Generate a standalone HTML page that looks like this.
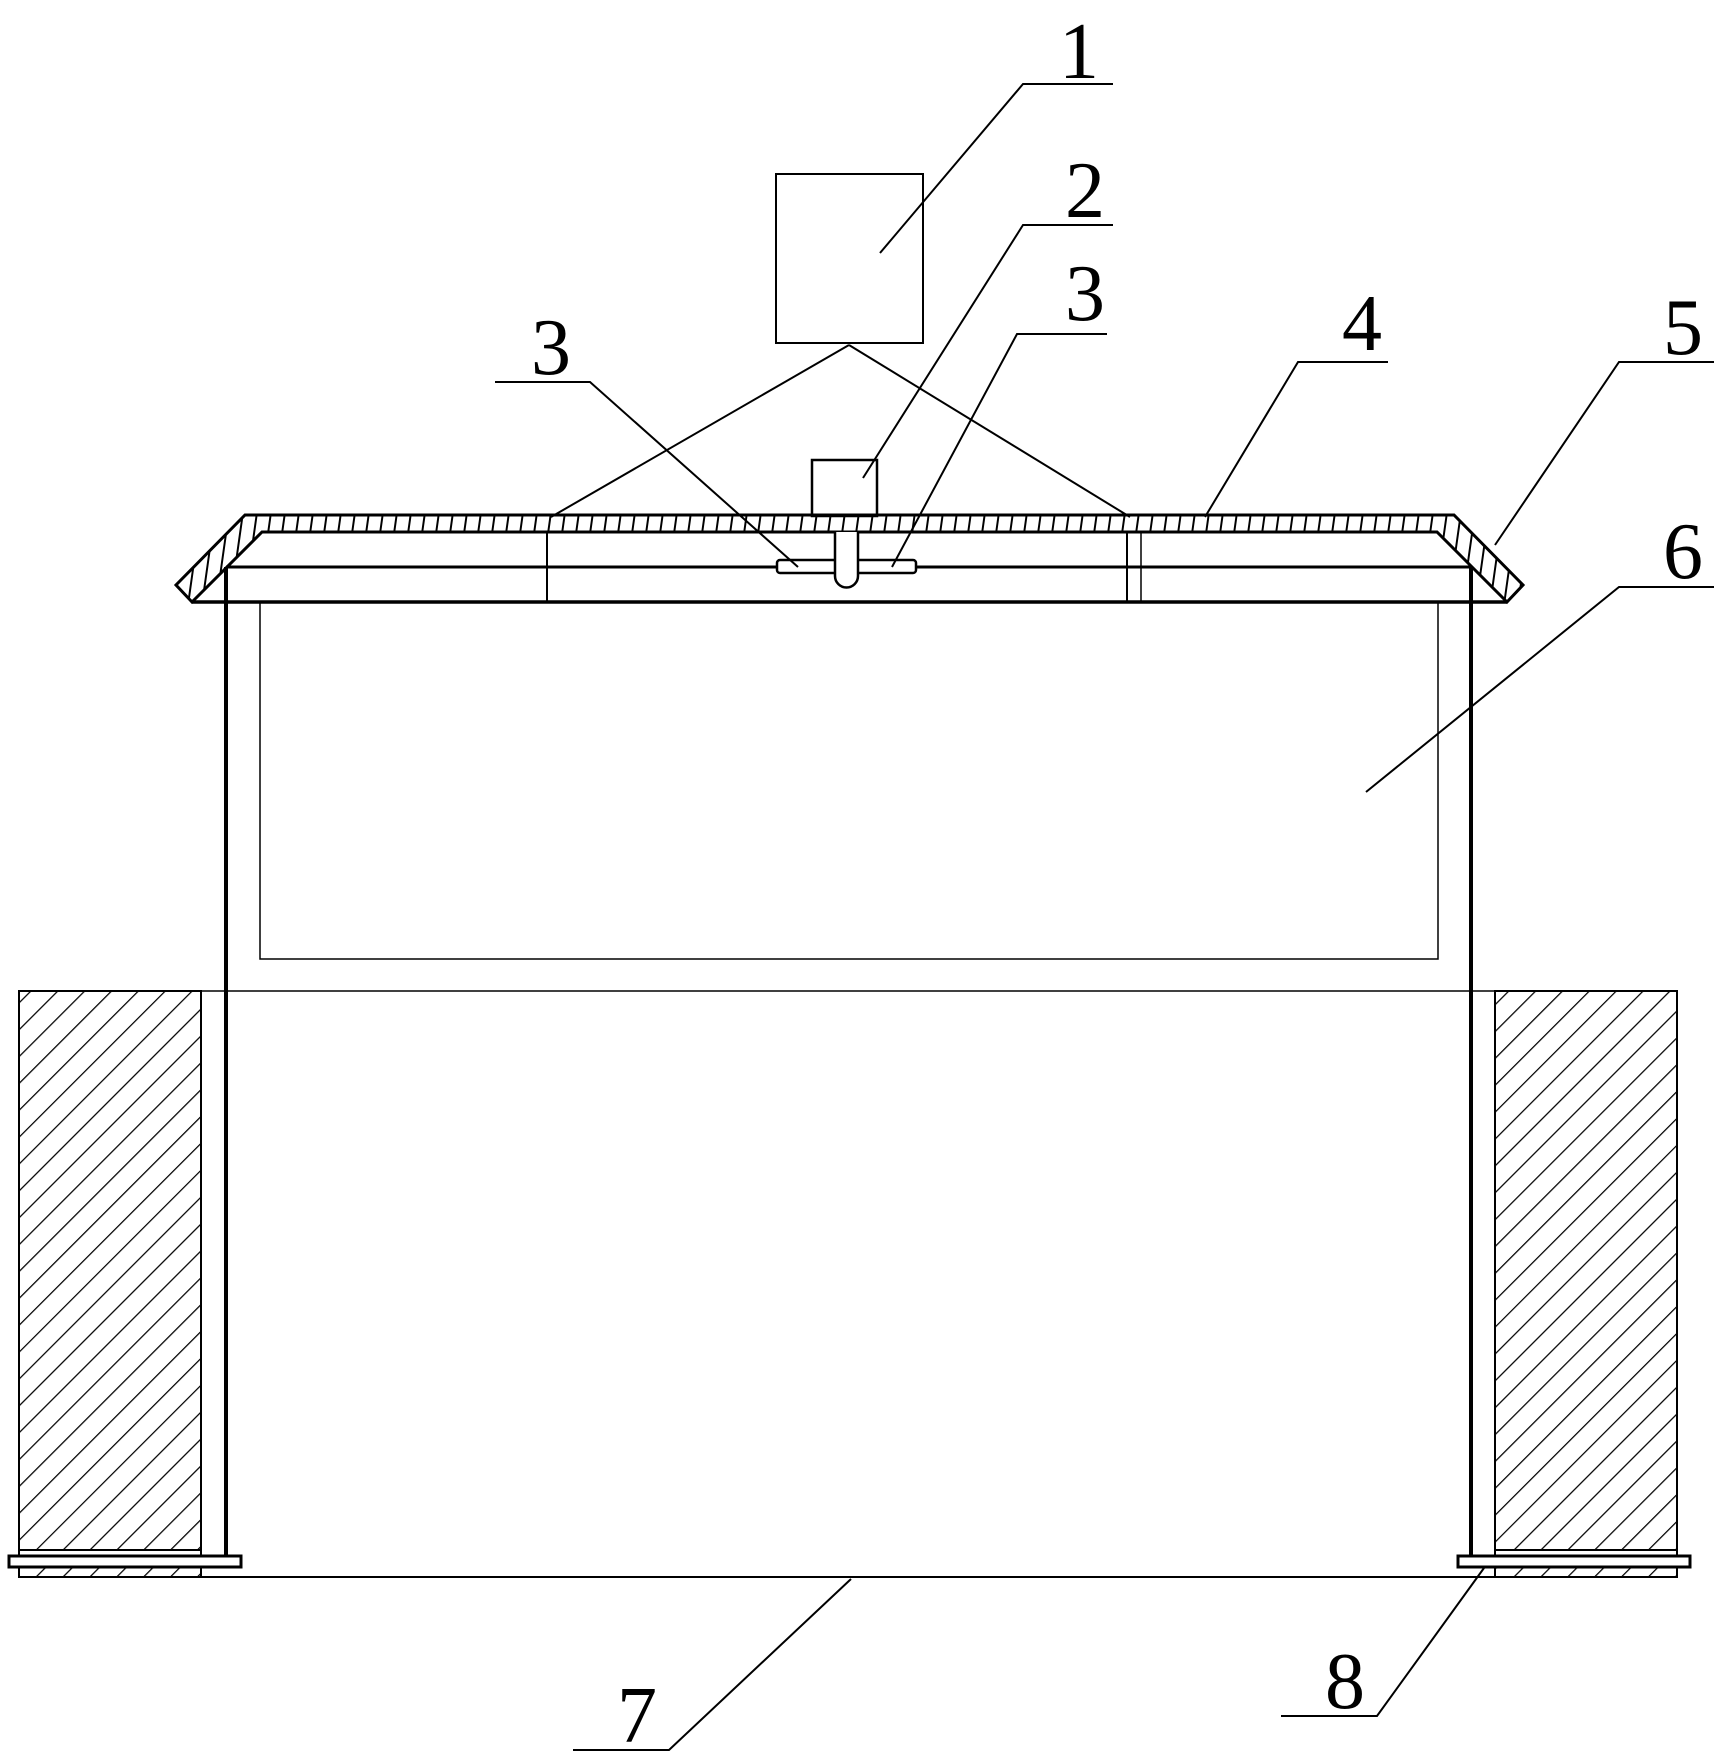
<!DOCTYPE html>
<html><head><meta charset="utf-8"><style>html,body{margin:0;padding:0;background:#fff}svg{display:block}</style></head>
<body>
<svg width="1720" height="1759" viewBox="0 0 1720 1759" xmlns="http://www.w3.org/2000/svg">
<defs>
<pattern id="h45" width="19" height="19" patternUnits="userSpaceOnUse" patternTransform="rotate(45)">
<line x1="0" y1="0" x2="0" y2="19" stroke="#000" stroke-width="2.5"/>
</pattern>
<pattern id="vh" width="14" height="20" patternUnits="userSpaceOnUse" patternTransform="skewX(-8)">
<line x1="7" y1="0" x2="7" y2="20" stroke="#000" stroke-width="2"/>
</pattern>
</defs>
<g fill="none" stroke="#000" stroke-width="2">
<rect x="776" y="174" width="147" height="169"/>
<line x1="849" y1="345" x2="551" y2="517"/>
<line x1="849" y1="345" x2="1130" y2="517"/>
<rect x="812" y="460" width="65" height="56" stroke-width="2.5"/>
<path d="M245,515 L1454,515 L1523,585 L1507,602 L1437,532 L262,532 L192,602 L176,585 Z" fill="url(#vh)" stroke-width="3"/>
<line x1="192" y1="602" x2="1507" y2="602" stroke-width="3.5"/>
<line x1="226" y1="567" x2="1471" y2="567" stroke-width="3"/>
<line x1="547" y1="532" x2="547" y2="602"/>
<line x1="1127" y1="532" x2="1127" y2="602"/>
<line x1="1141" y1="532" x2="1141" y2="602" stroke-width="1.5"/>
<rect x="777" y="560" width="139" height="13" rx="3" fill="#fff" stroke-width="2.5"/>
<path d="M835,532 L835,576 A11.5,11.5 0 0 0 858,576 L858,532" fill="#fff" stroke-width="2.5"/>
<line x1="226" y1="567" x2="226" y2="1556" stroke-width="4"/>
<line x1="1471" y1="567" x2="1471" y2="1556" stroke-width="4"/>
<rect x="260" y="602" width="1178" height="357" stroke-width="1.5"/>
<line x1="19" y1="991" x2="1677" y2="991" stroke-width="1.5"/>
<rect x="19" y="991" width="182" height="559" fill="url(#h45)" stroke-width="2"/>
<rect x="1495" y="991" width="182" height="559" fill="url(#h45)" stroke-width="2"/>
<rect x="19" y="1550" width="182" height="27" stroke-width="2"/>
<rect x="1495" y="1550" width="182" height="27" stroke-width="2"/>
<rect x="19" y="1567" width="182" height="10" fill="url(#h45)" stroke="none"/>
<rect x="1495" y="1567" width="182" height="10" fill="url(#h45)" stroke="none"/>
<line x1="19" y1="1577" x2="1677" y2="1577" stroke-width="2"/>
<rect x="9" y="1556" width="232" height="11" fill="#fff" stroke-width="3"/>
<rect x="1458" y="1556" width="232" height="11" fill="#fff" stroke-width="3"/>
<polyline points="1113,84 1023,84 880,253"/>
<polyline points="1113,225 1023,225 863,478"/>
<polyline points="1107,334 1017,334 892,567"/>
<polyline points="495,382 590,382 798,567"/>
<polyline points="1388,362 1298,362 1205,517"/>
<polyline points="1714,362 1619,362 1495,545"/>
<polyline points="1714,587 1619,587 1366,792"/>
<polyline points="573,1750 669,1750 851,1579"/>
<polyline points="1281,1716 1377,1716 1484,1568"/>
</g>
<g font-family="Liberation Serif, serif" font-size="80" fill="#000" text-anchor="middle">
<text x="1079" y="78">1</text>
<text x="1085" y="217">2</text>
<text x="1085" y="320">3</text>
<text x="551" y="374">3</text>
<text x="1362" y="350">4</text>
<text x="1683" y="354">5</text>
<text x="1683" y="578">6</text>
<text x="637" y="1742">7</text>
<text x="1345" y="1708">8</text>
</g>
</svg>
</body></html>
